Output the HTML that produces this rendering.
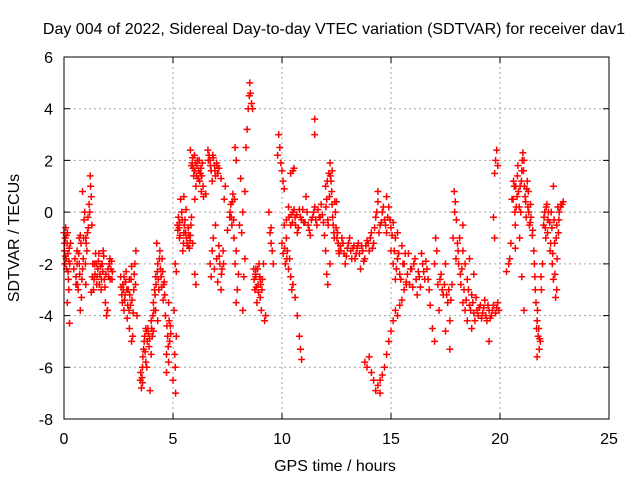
<!DOCTYPE html>
<html><head><meta charset="utf-8"><style>
html,body{margin:0;padding:0;background:#fff;}
svg{display:block;font-family:"Liberation Sans",Arial,sans-serif;}
</style></head><body>
<svg id="chart" width="640" height="480" viewBox="0 0 640 480">
<text x="334" y="34" font-size="16" text-anchor="middle">Day 004 of 2022, Sidereal Day-to-day VTEC variation (SDTVAR) for receiver dav1</text>
<g id="grid"></g>
<g id="ticks"></g>
<g id="marks"></g>
<rect x="64" y="57" width="545" height="362" fill="none" stroke="#000" stroke-width="1"/>
<text x="19" y="238" font-size="16" text-anchor="middle" transform="rotate(-90 19 238)">SDTVAR / TECUs</text>
<text x="335" y="471" font-size="16" text-anchor="middle">GPS time / hours</text>
</svg>
<script>
const xTicks = [0, 5, 10, 15, 20, 25];
const yTicks = [-8, -6, -4, -2, 0, 2, 4, 6];
const hours = [0.00,0.02,0.04,0.06,0.08,0.10,0.12,0.14,0.16,0.18,0.20,0.22,0.24,0.26,0.15,0.25,0.30,
0.45,0.5,0.55,0.6,0.65,0.7,0.75,0.8,0.85,0.9,0.92,0.95,1.0,1.05,1.08,1.1,1.15,1.2,1.22,1.25,1.28,1.3,1.35,1.4,1.45,1.5,1.55,1.6,1.65,1.7,1.75,1.8,1.85,1.9,1.95,2.0,2.05,2.1,2.15,2.2,0.85,0.7,1.0,1.25,0.55,0.75,
2.6,2.65,2.7,2.75,2.8,2.85,2.9,2.95,3.0,3.05,3.1,3.15,3.2,3.25,3.3,3.35,2.75,3.0,3.1,
3.5,3.55,3.6,3.65,3.7,3.75,3.8,3.85,3.9,3.95,4.0,4.05,4.1,4.15,4.2,4.25,4.3,4.35,4.4,4.45,4.5,4.55,4.6,3.6,3.75,4.0,4.1,4.2,4.3,
4.65,4.7,4.75,4.8,4.85,4.9,4.7,4.8,5.05,5.1,5.12,5.15,5.0,5.08,
5.2,5.25,5.3,5.35,5.4,5.45,5.5,5.55,5.6,5.65,5.7,5.75,5.8,5.85,5.9,5.1,5.15,5.5,5.3,6.0,6.05,
5.8,5.85,5.9,5.95,6.0,6.05,6.1,6.15,6.2,6.25,6.3,6.35,6.4,6.5,6.0,
6.6,6.65,6.7,6.75,6.8,6.85,6.9,6.95,7.0,7.05,7.1,
6.7,6.75,6.8,6.85,6.9,6.95,7.0,7.05,7.1,7.15,7.2,7.25,7.3,7.35,7.4,7.2,7.5,
7.6,7.65,7.7,7.75,7.8,7.85,7.9,7.95,8.0,7.9,8.05,8.1,8.15,8.2,8.25,8.3,8.35,8.4,8.45,8.5,8.52,8.55,8.6,8.65,7.85,7.9,8.2,8.3,
8.7,8.75,8.8,8.85,8.9,8.95,9.0,9.05,9.1,9.15,9.2,9.25,8.8,9.0,
9.4,9.45,9.5,9.55,9.6,9.5,
9.8,9.85,9.9,9.95,10.0,10.05,10.1,10.4,10.5,10.55,
10.0,10.05,10.1,10.15,10.2,10.25,10.3,10.35,10.4,10.45,10.5,10.6,10.7,10.8,10.85,10.9,
10.2,10.3,10.4,10.5,10.6,10.7,10.8,10.9,11.0,11.1,11.2,11.3,11.4,11.5,11.6,11.7,11.8,11.9,11.5,11.5,
12.0,12.05,12.1,12.15,12.2,12.25,12.3,12.35,12.4,12.45,12.5,12.55,12.6,12.1,12.05,12.0,11.95,12.2,12.3,
12.7,12.8,12.9,13.0,13.1,13.2,13.3,13.4,13.5,13.6,13.7,13.8,13.9,14.0,14.1,14.2,
14.3,14.4,14.5,14.6,14.7,14.8,14.9,15.0,15.1,15.2,14.4,14.8,15.3,
13.8,13.9,14.0,14.1,14.2,14.3,14.4,14.5,14.6,14.7,14.8,14.9,15.0,15.1,15.2,15.3,15.4,15.5,15.6,15.7,14.5,
15.0,15.1,15.2,15.3,15.4,15.5,15.6,15.7,15.8,15.9,16.0,16.1,16.2,16.3,16.4,16.5,
16.6,16.7,16.8,16.9,17.0,17.05,17.1,17.15,17.2,17.0,
17.3,17.4,17.5,17.6,17.7,17.8,17.5,17.7,
17.9,17.95,18.0,18.05,18.1,18.15,18.2,18.3,18.3,18.4,18.5,18.6,18.7,18.8,
18.3,18.4,18.5,18.6,18.7,18.8,18.9,19.0,19.1,19.2,19.3,19.4,19.5,19.6,19.7,19.8,19.9,19.5,
19.75,19.8,19.85,19.9,19.7,19.75,
20.3,20.4,20.45,20.5,20.6,20.65,20.7,20.75,20.8,20.85,20.9,20.95,21.0,21.05,21.1,21.15,21.2,21.25,21.3,21.35,21.4,21.5,20.7,21.0,21.1,
21.55,21.6,21.65,21.7,21.75,21.8,21.85,21.9,21.95,21.7,
22.0,22.05,22.1,22.15,22.2,22.3,22.35,22.4,22.45,22.5,22.55,22.6,22.65,22.7,22.8,22.9,22.45,22.6];
const sdtvar = [-0.8,-1.5,-2.0,-1.0,-0.6,-1.8,-2.2,-1.2,-0.8,-1.6,-2.6,-3.0,-1.4,-2.0,-3.5,-4.3,-1.2,
-2.2,-1.8,-2.5,-1.5,-3.0,-2.0,-0.9,-3.3,-2.2,-1.0,-0.3,0.0,-2.8,-1.5,-0.8,-0.2,0.3,1.4,1.0,0.6,-0.5,-2.5,-3.0,-2.0,-1.6,-2.8,-2.2,-1.6,-2.4,-3.0,-2.0,-1.5,-2.6,-3.5,-4.0,-3.8,-2.5,-1.8,-2.2,-2.6,0.8,-1.0,-1.0,-3.1,-2.8,-3.8,
-2.5,-3.2,-2.8,-3.8,-3.2,-2.3,-4.1,-3.0,-4.5,-3.6,-2.1,-4.8,-3.0,-2.0,-1.5,-4.0,-2.5,-2.6,-5.0,
-6.5,-6.8,-6.0,-5.3,-4.8,-5.8,-6.0,-4.5,-5.2,-6.9,-4.2,-4.8,-3.5,-3.0,-2.5,-1.2,-2.0,-3.0,-1.5,-2.5,-1.8,-3.4,-2.7,-6.6,-4.5,-5.5,-4.6,-3.8,-4.2,
-4.0,-5.5,-4.8,-3.5,-5.0,-4.7,-6.2,-5.8,-3.8,-6.0,-7.0,-4.8,-6.5,-5.5,
-0.5,-0.2,-1.0,0.5,0.0,-1.5,-0.8,-0.3,0.1,-1.2,-0.6,-1.4,-0.9,-0.2,-1.2,-2.0,-2.3,0.6,-0.4,-2.4,-2.8,
2.4,1.8,2.1,1.4,1.6,1.0,1.8,1.3,2.0,1.5,0.8,1.9,0.6,0.7,0.5,
2.4,2.2,2.0,1.6,1.2,2.1,1.8,1.4,1.9,1.5,1.7,
-2.0,-2.5,-1.5,-1.0,-2.2,-0.5,-1.8,-2.7,-1.3,-2.0,-3.0,-2.2,-1.5,0.5,1.0,1.3,-0.7,
-0.2,0.3,-0.5,0.7,-1.0,-2.0,-1.5,-3.0,-2.4,-3.5,-0.5,1.3,-0.8,-3.8,-2.5,0.8,2.5,3.2,4.0,4.5,5.0,4.6,4.2,4.0,2.5,2.0,0.0,-1.8,
-2.2,-3.0,-2.5,-3.5,-2.8,-2.0,-3.3,-3.8,-2.6,-2.0,-4.2,-4.0,-2.2,-2.6,
0.0,-0.8,-0.6,-1.5,-2.0,-1.2,
2.2,3.0,2.5,1.9,1.6,1.2,0.9,1.5,1.6,1.7,
-1.2,-1.6,-0.5,-2.0,-1.0,-1.5,-2.2,-1.8,-2.5,-3.0,-2.8,-3.3,-4.0,-4.8,-5.3,-5.7,
-0.3,0.2,-0.5,0.0,-0.2,-0.8,0.1,-0.3,-0.4,0.6,-0.5,-0.9,-0.2,0.2,-0.5,-0.2,0.3,-0.4,3.6,3.0,
1.0,0.5,-0.3,1.5,1.9,1.2,0.3,-0.5,-1.0,0.0,0.4,-0.8,-1.5,-2.8,-2.4,-1.5,-0.9,-2.0,1.6,
-1.5,-1.2,-2.0,-1.4,-1.0,-1.8,-1.3,-1.6,-1.2,-2.2,-1.5,-1.8,-1.1,-1.5,-0.8,-1.2,
-0.2,0.4,-0.5,0.0,-0.3,-0.8,0.2,-0.6,-0.4,-1.0,0.8,0.6,-0.8,
-5.8,-6.0,-5.6,-6.2,-6.5,-6.9,-6.7,-6.5,-6.3,-6.0,-5.5,-5.0,-4.6,-4.2,-3.8,-4.0,-3.6,-3.4,-3.0,-2.7,-7.0,
-1.5,-2.0,-2.6,-1.8,-2.4,-1.3,-2.0,-2.8,-1.6,-2.2,-2.9,-1.8,-3.2,-2.5,-1.6,-2.3,
-1.9,-2.6,-3.6,-4.5,-2.0,-1.0,-1.5,-2.8,-3.8,-5.0,
-2.4,-3.2,-2.0,-3.5,-4.2,-2.8,-4.6,-5.3,
0.8,0.4,-0.3,-1.2,-2.0,-1.0,-2.8,-1.5,-0.5,-2.0,-2.6,-1.8,-3.2,-2.4,
-3.5,-3.8,-4.2,-3.6,-4.5,-3.9,-3.3,-4.0,-3.6,-3.9,-3.4,-4.2,-3.8,-4.0,-3.6,-3.9,-3.5,-5.0,
1.5,2.0,2.4,1.8,-0.2,-1.0,
-2.3,-2.0,-1.8,-1.2,0.5,1.0,-0.5,0.2,1.4,0.8,-1.0,0.0,1.6,2.3,2.0,0.6,-0.2,1.2,0.8,-0.5,0.3,-0.7,-1.4,-2.5,-3.8,
-1.5,-2.5,-3.5,-4.2,-4.8,-5.3,-5.0,-3.0,-2.0,-5.6,
-0.5,0.0,-1.0,0.3,-0.3,-1.5,0.0,-2.0,-2.6,-1.2,-3.3,-0.5,0.2,-0.3,0.3,0.4,1.0,-3.0];
// additional observations filling the dense clusters
const hoursExtra = [0.03,0.07,0.11,0.19,0.23,0.6,0.62,0.68,0.72,0.78,0.82,0.88,0.98,1.02,1.12,1.18,1.32,1.38,1.42,1.48,1.52,1.58,1.62,1.68,1.72,1.78,1.82,1.88,1.92,1.98,2.02,2.08,2.12,2.18,2.22,
2.62,2.68,2.72,2.78,2.82,2.88,2.92,2.98,3.02,3.08,3.12,3.18,3.22,3.28,3.52,3.58,3.62,3.68,3.72,3.78,3.82,3.88,3.92,4.02,4.08,4.12,4.18,4.22,4.28,4.32,4.38,4.42,4.48,4.52,4.58,4.62,4.72,4.78,4.82,4.88,
5.22,5.28,5.32,5.42,5.48,5.52,5.58,5.62,5.68,5.72,5.78,5.82,5.88,5.92,5.98,6.02,6.08,6.12,6.18,6.22,6.28,6.32,6.38,6.62,6.72,6.82,6.92,7.02,7.12,7.22,7.32,
7.62,7.68,7.72,7.78,7.82,8.72,8.78,8.82,8.88,8.92,8.98,9.02,9.08,10.12,10.22,10.32,10.42,10.48,10.55,10.62,10.68,10.75,10.85,10.95,11.05,11.15,11.25,11.35,11.45,11.55,11.65,11.75,11.85,
12.02,12.08,12.12,12.18,12.22,12.28,12.32,12.38,12.42,12.48,12.52,12.58,12.62,12.68,12.75,12.85,12.95,13.05,13.15,13.25,13.35,13.45,13.55,13.65,13.75,13.85,13.95,14.05,14.15,
14.25,14.35,14.45,14.55,14.65,14.75,14.85,14.95,15.05,15.15,15.25,15.35,15.45,15.55,15.65,15.75,15.85,15.95,16.05,16.15,16.25,16.35,16.45,16.55,16.65,16.75,
17.25,17.35,17.45,17.55,17.65,17.75,17.85,17.92,17.98,18.08,18.18,18.25,18.35,18.45,18.55,18.65,18.75,18.85,18.95,19.05,19.15,19.25,19.35,19.45,19.55,19.65,19.85,19.95,
20.55,20.62,20.68,20.72,20.78,20.82,20.88,20.92,20.98,21.02,21.08,21.12,21.18,21.22,21.28,21.32,21.38,21.42,21.48,21.58,21.62,21.68,21.72,21.78,21.82,21.88,
22.02,22.08,22.12,22.18,22.22,22.28,22.32,22.38,22.42,22.48,22.52,22.58,22.62,22.68,22.72,22.78,22.85];
const sdtvarExtra = [-1.2,-1.7,-0.9,-2.3,-1.9,-2.0,-2.8,-1.6,-2.4,-1.2,-2.6,-1.8,-2.0,-1.2,-0.6,0.0,-2.0,-2.6,-2.4,-2.0,-2.5,-1.9,-2.8,-2.1,-2.6,-2.3,-1.7,-2.9,-2.4,-3.8,-2.2,-2.0,-2.6,-1.9,-2.3,
-2.9,-3.5,-3.0,-3.4,-2.7,-3.0,-3.6,-3.8,-3.2,-2.6,-3.4,-3.9,-2.4,-2.8,-6.2,-6.4,-5.6,-5.0,-5.4,-4.6,-5.0,-4.7,-4.9,-4.5,-4.0,-3.8,-3.2,-2.8,-2.3,-2.6,-1.8,-2.2,-2.9,-2.3,-2.8,-3.2,-4.4,-5.2,-4.2,-4.4,
-0.7,-0.6,-0.9,-0.3,-1.2,-0.5,-0.8,-1.0,-1.3,-0.9,-1.1,-0.5,1.9,1.7,2.2,1.9,1.4,2.0,1.6,1.2,1.7,1.4,1.0,2.0,1.8,2.2,1.6,1.8,-1.7,-2.4,-2.0,
0.0,-0.2,0.4,-0.3,0.5,-2.6,-2.4,-2.9,-2.2,-3.1,-2.5,-2.8,-3.0,-1.4,-1.8,-0.2,-0.1,-0.4,0.1,-0.5,-0.1,-0.6,-0.2,0.1,-0.4,0.0,-0.7,-0.3,0.0,-0.3,0.1,-0.2,-0.1,
0.2,1.2,-0.5,0.6,1.4,0.8,-0.2,-0.8,0.4,-0.6,-1.0,-1.2,-1.6,-1.3,-1.0,-1.6,-1.7,-1.2,-1.5,-1.4,-1.8,-1.4,-1.6,-1.3,-1.9,-1.3,-1.2,-1.0,-1.4,
-0.6,0.0,-0.8,-0.4,0.2,-0.5,-0.2,-0.3,-0.9,-1.5,-2.2,-1.6,-2.6,-2.0,-1.6,-2.4,-2.8,-2.2,-2.0,-2.6,-2.3,-2.9,-2.0,-2.6,-2.2,-3.0,
-2.6,-3.0,-2.8,-3.2,-3.0,-3.4,-1.0,0.0,-1.8,-1.5,-2.4,-2.2,-3.0,-3.4,-3.0,-3.8,-3.5,-4.2,-3.8,-3.7,-4.1,-3.7,-4.0,-3.6,-4.1,-3.8,-3.7,-3.8,
0.5,1.2,0.0,1.0,0.6,1.8,0.2,1.0,1.2,2.0,1.6,1.0,0.4,0.9,0.2,0.0,-0.4,-0.2,-0.9,-2.0,-3.0,-4.5,-3.8,-4.5,-4.9,-2.5,
-0.2,-0.6,0.2,-0.8,0.0,-0.4,-1.2,-0.6,-1.6,-0.3,-2.4,-1.0,-1.8,-0.8,0.0,0.2,0.3];

const allHours = hours.concat(hoursExtra);
const allValues = sdtvar.concat(sdtvarExtra);

const NS = 'http://www.w3.org/2000/svg';
const X0 = 64, X1 = 609, Y0 = 419, Y1 = 57;
function xScale(h){ return X0 + (h - 0) / 25 * (X1 - X0); }
function yScale(v){ return Y0 - (v - (-8)) / 14 * (Y0 - Y1); }
const grid = document.getElementById('grid');
const ticks = document.getElementById('ticks');
const marks = document.getElementById('marks');
function mk(tag, attrs, parent){ const e = document.createElementNS(NS, tag); for (const k in attrs) e.setAttribute(k, attrs[k]); parent.appendChild(e); return e; }

xTicks.forEach(t => {
  const x = xScale(t);
  if (t > 0 && t < 25) {
    const g = mk('line', {x1:x, x2:x, y1:Y1, y2:Y0, stroke:'#a0a0a0', 'stroke-dasharray':'2,3', 'stroke-width':1}, grid);
    
    
  }
  const tk = mk('path', {d:`M${x},${Y0}v-6M${x},${Y1}v6`, stroke:'#000', 'stroke-width':1}, ticks);
  
  
  const lb = mk('text', {x:x, y:444, 'font-size':16, 'text-anchor':'middle'}, ticks);
  lb.textContent = t;
  
  
});
yTicks.forEach(t => {
  const y = yScale(t);
  if (t > -8 && t < 6) {
    const g = mk('line', {x1:X0, x2:X1, y1:y, y2:y, stroke:'#a0a0a0', 'stroke-dasharray':'2,3', 'stroke-width':1}, grid);
    
    
  }
  const tk = mk('path', {d:`M${X0},${y}h6M${X1},${y}h-6`, stroke:'#000', 'stroke-width':1}, ticks);
  
  
  const lb = mk('text', {x:53, y:y+6, 'font-size':16, 'text-anchor':'end'}, ticks);
  lb.textContent = t;
  
  
});
let d = '';
for (let i = 0; i < allHours.length; i++) {
  const x = xScale(allHours[i]), y = yScale(allValues[i]);
  d += `M${(x-3.5).toFixed(1)},${y.toFixed(1)}h7M${x.toFixed(1)},${(y-3.5).toFixed(1)}v7`;
}
const p = mk('path', {d:d, stroke:'#ff0000', 'stroke-width':1.5, fill:'none'}, marks);


</script>
</body></html>
